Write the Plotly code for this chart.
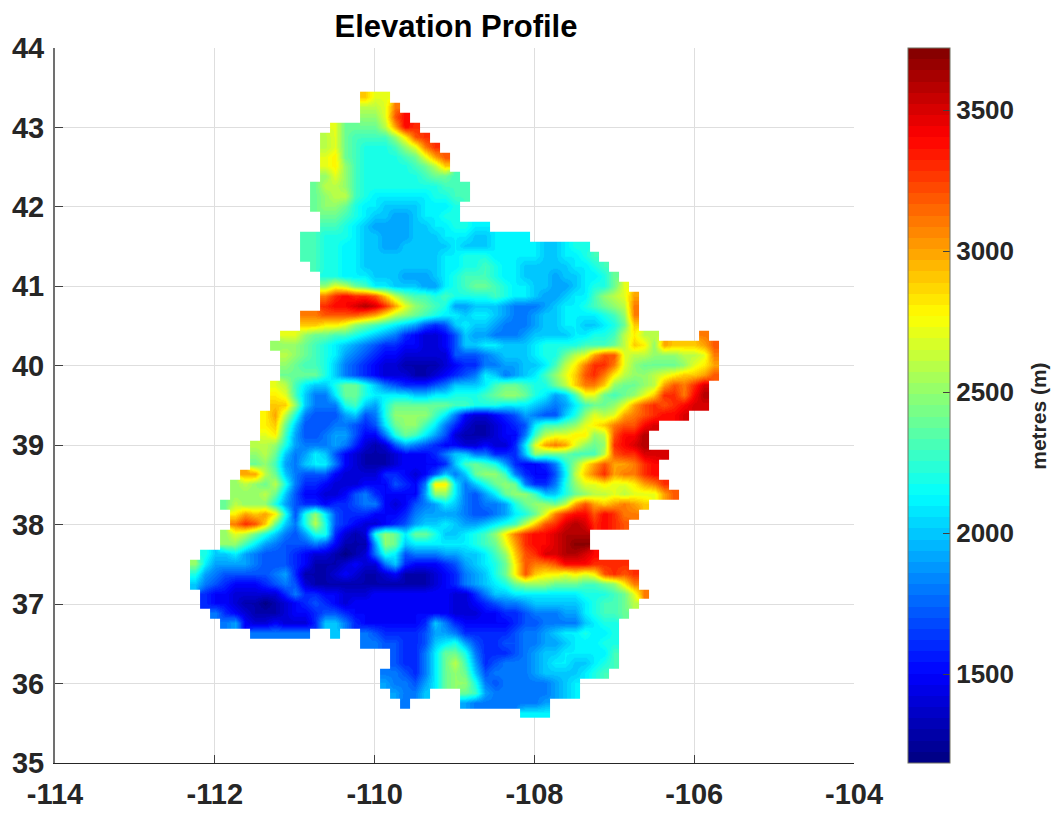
import plotly.graph_objects as go

# Elevation in hundreds of metres, north to south.
# Each entry: (first occupied column, values west to east; None = no data)
elevation_rows = [
(17,[29,27,27]),
(17,[26,26,27,31]),
(17,[25,25,27,32,34]),
(14,[27,24,24,24,24,26,30,34,33]),
(13,[26,27,24,23,23,23,23,25,28,32,33]),
(13,[26,27,24,23,22,22,22,23,25,27,31,33]),
(13,[27,28,24,23,22,22,22,22,23,24,27,30,32]),
(13,[27,28,25,23,22,22,22,22,22,23,24,26,29]),
(13,[25,27,25,23,22,22,22,22,22,22,23,24,24,23]),
(12,[24,26,26,25,23,22,22,22,22,22,22,22,22,23,23,23]),
(12,[24,25,26,26,23,22,21,21,21,21,21,21,22,22,23,23]),
(12,[24,25,25,24,22,21,21,20,20,20,20,21,21,21,22]),
(13,[24,24,23,22,21,20,20,19,19,20,21,21,22,22]),
(13,[23,23,22,21,20,19,19,19,19,20,20,21,21,22,22,21,21]),
(11,[23,23,22,22,22,21,20,20,19,19,19,20,20,20,21,21,21,20,20,21,21,21,21]),
(11,[23,23,22,22,21,21,20,20,19,19,20,20,20,20,20,21,20,20,20,21,21,21,21,21,20,20,21,22,22]),
(11,[23,23,22,22,21,21,20,20,20,20,20,20,20,20,21,21,22,22,22,21,21,21,21,21,20,20,21,21,22,23]),
(12,[23,22,22,21,21,20,20,20,20,20,20,20,20,21,21,22,22,23,22,21,21,20,20,20,20,20,21,21,22,23]),
(13,[22,22,21,21,21,20,20,20,19,19,19,20,21,22,23,23,23,22,21,21,20,20,20,19,20,20,21,21,22,24]),
(13,[25,27,26,24,23,21,21,20,20,20,19,19,21,22,23,24,24,23,22,21,21,20,20,19,19,20,21,22,22,24,27]),
(13,[31,33,34,33,33,32,29,26,24,23,23,22,23,22,22,22,22,23,22,21,21,20,19,19,20,21,21,23,25,26,27,30]),
(13,[33,34,34,35,36,35,33,30,27,25,24,23,22,19,19,20,20,20,19,18,18,18,19,20,21,21,22,23,24,25,26,31]),
(11,[31,31,32,32,32,32,31,30,28,26,25,24,23,22,21,21,20,21,21,20,19,18,18,19,20,20,21,21,21,21,22,23,25,31]),
(11,[29,29,28,28,27,25,24,23,22,21,20,19,17,16,17,20,21,20,20,19,18,18,18,19,20,20,21,21,20,20,21,22,24,29]),
(9,[27,27,25,24,24,23,23,22,21,20,19,18,16,15,14,14,15,17,20,19,19,18,18,18,19,20,20,20,20,21,21,22,22,23,26,28,26,26,None,None,None,None,31]),
(8,[25,25,25,24,23,22,21,20,19,18,17,16,16,15,15,14,14,15,17,20,20,21,21,20,20,20,21,22,22,22,22,23,23,23,24,26,29,28,25,30,29,29,29,30,32]),
(9,[26,25,24,23,22,21,19,18,17,16,15,15,14,14,14,14,14,17,17,17,18,19,20,20,20,21,22,22,24,26,27,30,32,32,27,26,26,25,25,25,26,26,27,31]),
(9,[25,24,23,23,22,20,18,17,16,15,14,14,13,13,13,13,14,15,16,16,18,18,19,19,20,20,21,23,26,28,31,33,33,31,27,25,24,24,24,24,25,27,28,30]),
(9,[24,24,24,24,22,20,18,17,16,15,14,14,14,13,13,14,15,16,17,18,21,20,18,19,20,21,23,25,27,29,32,33,31,28,26,25,25,26,27,28,29,29,30,32]),
(8,[27,26,23,21,20,20,22,24,24,22,20,18,17,16,16,16,17,18,20,20,20,21,23,24,24,23,22,22,24,26,29,31,31,29,25,24,24,25,26,30,32,31,33,35]),
(8,[28,27,23,20,18,18,21,24,24,22,21,21,21,21,20,20,21,21,22,22,22,23,24,25,25,24,22,21,19,20,23,27,27,24,23,24,25,27,29,33,33,31,34,36]),
(8,[29,29,25,20,18,18,18,22,23,20,19,22,24,24,24,24,24,24,23,23,22,22,22,21,21,21,20,19,18,19,21,23,24,24,25,27,30,32,33,32,33,34,35,35]),
(7,[28,30,26,22,18,17,17,17,19,20,17,18,22,25,25,25,25,23,21,18,15,14,14,15,16,17,19,18,17,17,20,22,25,27,26,27,30,31,32,33,34,34,35]),
(7,[28,29,24,20,17,17,17,18,18,17,16,17,21,24,25,25,23,21,18,16,14,13,13,14,15,16,17,21,23,23,24,25,27,28,29,31,32,32,34,35]),
(7,[27,28,23,19,17,17,18,19,19,17,15,15,18,22,24,23,21,19,17,14,13,13,13,14,15,15,18,23,26,27,27,28,28,25,26,32,34,34,36]),
(6,[26,26,25,22,19,18,18,18,19,18,16,14,13,14,17,19,18,17,16,15,15,14,14,15,14,14,16,21,27,30,31,30,27,25,24,25,33,34,35,36]),
(6,[25,26,24,20,18,19,21,20,17,15,14,13,13,13,14,15,15,15,16,18,20,20,18,18,16,16,16,20,25,24,24,24,23,23,23,26,32,33,33,35,35,35]),
(6,[24,25,23,19,18,20,21,21,18,15,14,13,13,13,14,15,15,15,15,16,20,23,24,23,22,19,16,15,15,16,18,22,25,28,30,32,30,30,31,33,34]),
(5,[30,30,26,24,20,18,17,17,17,15,14,14,14,14,16,16,15,14,15,17,20,18,20,24,25,25,23,18,16,15,15,17,21,26,29,31,33,30,31,31,33,34]),
(4,[25,26,25,24,26,22,18,16,16,15,14,14,14,15,15,15,17,16,15,18,28,28,21,18,20,22,24,25,24,18,16,16,18,22,25,27,27,28,27,27,28,30,31,33]),
(4,[25,25,25,26,24,20,17,15,15,14,14,15,17,18,16,15,15,15,15,19,25,25,21,18,17,19,21,24,25,25,23,20,20,22,24,25,26,26,27,26,27,27,27,30,32]),
(3,[24,26,25,25,25,22,19,17,16,16,15,16,16,17,18,18,15,14,15,17,18,19,21,20,18,17,18,18,19,22,24,25,25,24,26,30,32,30,29,30,31,30,29]),
(4,[28,30,29,30,28,22,17,22,25,21,17,16,16,16,15,15,15,16,18,19,19,19,19,18,17,17,18,19,21,22,24,27,31,33,34,34,32,34,33,31,31]),
(4,[31,33,32,29,24,20,18,22,26,22,17,16,15,14,14,15,16,17,19,20,20,21,20,19,19,20,21,22,23,26,29,32,33,35,36,35,33,34,33,32]),
(3,[25,27,26,24,22,20,18,17,19,22,22,16,14,13,14,22,25,24,21,24,24,22,20,20,21,22,23,25,28,31,33,34,34,35,36,36,36]),
(3,[25,25,23,21,19,18,17,17,17,18,17,15,13,13,13,19,25,24,20,21,21,21,21,21,21,22,23,24,27,30,33,34,34,35,36,37,37]),
(1,[22,20,20,21,19,18,17,17,17,16,15,14,14,13,12,13,14,18,22,21,17,18,18,18,19,19,20,20,21,23,25,29,32,33,35,35,36,36,35,34]),
(0,[25,21,19,19,19,19,18,17,17,17,16,15,13,13,13,14,15,14,14,18,20,16,15,15,15,16,17,19,20,21,22,24,28,32,31,31,32,34,34,34,33,33,33,33]),
(0,[22,19,18,17,17,17,17,17,18,19,16,13,13,13,14,15,14,13,13,14,15,13,13,13,14,15,16,18,19,20,22,24,28,32,29,28,28,27,28,27,28,32,33,32,33]),
(0,[20,18,17,16,15,15,15,16,17,18,17,14,13,13,13,13,13,13,13,13,13,13,13,13,14,15,16,18,19,20,21,22,24,25,25,25,24,24,24,23,23,24,25,28,31]),
(1,[16,15,15,14,14,14,14,14,16,18,16,16,15,15,14,14,14,15,15,15,15,15,15,15,15,14,14,16,18,20,20,21,21,21,21,21,21,21,22,22,22,23,24,27,31]),
(1,[16,15,15,14,13,13,12,13,14,15,16,17,16,15,14,15,15,15,15,15,15,15,15,15,15,14,14,15,16,17,18,18,19,20,20,20,20,20,21,22,23,23,24,26]),
(2,[18,16,15,14,13,13,13,14,15,15,16,17,17,16,15,15,15,15,15,15,15,15,15,15,14,14,14,15,15,16,16,17,18,18,18,19,19,21,22,23,23,24]),
(3,[18,19,15,14,14,15,14,14,14,16,20,20,18,16,15,15,15,15,15,15,16,20,18,16,15,15,15,15,15,16,17,17,18,18,18,18,20,21,22,22]),
(6,[18,18,18,18,18,18,None,None,20,None,None,18,17,16,16,16,16,17,19,19,18,16,16,16,16,16,17,18,18,19,20,21,21,22,21,21,22]),
(17,[18,18,17,17,16,16,17,20,21,22,19,17,16,16,17,17,18,18,19,19,20,21,21,21,22,22]),
(20,[17,16,16,18,21,24,24,22,18,16,16,16,17,18,19,20,20,21,21,21,21,21,23]),
(20,[17,16,16,18,21,24,26,23,19,16,17,18,18,18,19,20,21,21,20,20,21,22,23]),
(19,[18,18,17,16,18,21,24,25,24,20,17,18,18,18,18,19,20,20,20,20,21,22,23]),
(19,[19,18,18,17,19,21,24,25,25,22,18,17,18,18,18,18,18,19,20,21]),
(20,[19,18,18,20,None,None,None,24,23,19,18,18,18,18,18,18,19,20,21]),
(21,[18,None,None,None,None,None,19,18,18,18,18,18,18,18,19]),
(33,[21,21,21]),
]

grid_west_edge = -112.31
grid_top_edge = 43.45
cell_size = 0.125
elevation_min = 1185
elevation_max = 3720

x_tick_values = [-114, -112, -110, -108, -106, -104]
x_tick_labels = ["-114", "-112", "-110", "-108", "-106", "-104"]
y_tick_values = [35, 36, 37, 38, 39, 40, 41, 42, 43, 44]
bar_tick_values = [1500, 2000, 2500, 3000, 3500]

n_cols = 53
z = []
for start, vals in reversed(elevation_rows):
    row = [None] * n_cols
    for i, v in enumerate(vals):
        if v is not None and start + i < n_cols:
            row[start + i] = v * 100
    z.append(row)
n_rows = len(z)
xs = [grid_west_edge + cell_size * (i + 0.5) for i in range(n_cols)]
ys = [grid_top_edge - cell_size * n_rows + cell_size * (j + 0.5) for j in range(n_rows)]


def jet(t):
    def ramp(c):
        return max(0.0, min(1.0, 1.5 - abs(4 * t - c)))
    return f"rgb({round(255*ramp(3))},{round(255*ramp(2))},{round(255*ramp(1))})"


levels = 64
colorscale = []
for i in range(levels):
    c = jet((i + 0.5) / levels)
    colorscale.append([i / levels, c])
    colorscale.append([(i + 1) / levels, c])

FONT = "Liberation Sans"
INK = "#262626"

fig = go.Figure(go.Heatmap(
    x=xs, y=ys, z=z, zsmooth="best", zmin=elevation_min, zmax=elevation_max,
    colorscale=colorscale, hoverongaps=False,
    colorbar=dict(
        thickness=42, thicknessmode="pixels", len=1, lenmode="fraction",
        x=1.0676, xanchor="left", y=0, yanchor="bottom", xpad=0, ypad=0,
        outlinecolor="#6f6f60", outlinewidth=1,
        tickvals=bar_tick_values, ticks="inside", ticklen=7, tickcolor="#404040",
        tickfont=dict(family=FONT, size=26, color=INK, weight="bold"),
    ),
))
axis_common = dict(
    showgrid=True, gridcolor="#dedede", gridwidth=1, zeroline=False, automargin=False,
    showline=True, ticks="inside", ticklen=8, tickcolor="#404040",
    tickfont=dict(family=FONT, size=29, color=INK, weight="bold"),
)
fig.update_layout(
    width=1052, height=805, autosize=False,
    margin=dict(l=47, r=206, t=40, b=50),
    paper_bgcolor="white", plot_bgcolor="white",
    title=dict(text="Elevation Profile", x=0.4259, xanchor="center", y=0.9776, yanchor="middle",
               font=dict(family=FONT, size=31, color="black", weight="bold")),
    xaxis=dict(range=[-114, -104], tickvals=x_tick_values, ticktext=x_tick_labels,
               linecolor="#262626", linewidth=1, ticklabelstandoff=5, **axis_common),
    yaxis=dict(range=[35, 44], tickvals=y_tick_values,
               linecolor="#707070", linewidth=2, ticklabelstandoff=3, **axis_common),
    annotations=[dict(text="metres (m)", textangle=-90, showarrow=False,
                      xref="paper", yref="paper", x=1.231, y=0.485,
                      xanchor="center", yanchor="middle",
                      font=dict(family=FONT, size=21, color=INK, weight="bold"))],
)
fig.write_html("out.html")
